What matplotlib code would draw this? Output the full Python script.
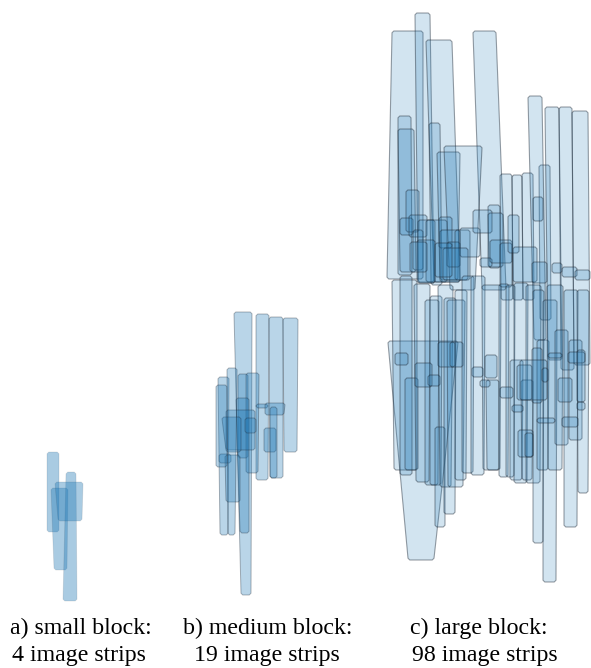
import matplotlib
matplotlib.use("Agg")
import matplotlib.pyplot as plt
from matplotlib.collections import PolyCollection

# strip footprints in page units (x grows right, y grows down):
# (x_top_left, x_top_right, x_bot_left, x_bot_right, y_top, y_bot)
SMALL_STRIPS = [
    (47, 59, 47, 59, 452, 532),
    (51, 68, 54, 67, 488, 570),
    (66, 76, 63, 77, 472, 601),
    (55, 83, 58, 82, 482, 521),
]

MEDIUM_STRIPS = [
    (234, 252, 241, 251, 312, 595),
    (256, 269, 256, 268, 314, 480),
    (269, 283, 270, 283, 317, 478),
    (283, 298, 284, 297, 318, 452),
    (218, 229, 220, 228, 377, 535),
    (238, 248, 238, 248, 374, 458),
    (246, 259, 246, 258, 373, 473),
    (236, 249, 240, 249, 398, 533),
    (226, 255, 226, 255, 410, 450),
    (222, 241, 226, 241, 417, 452),
    (245, 256, 245, 256, 418, 433),
    (256, 268, 256, 268, 404, 408),
    (265, 285, 265, 284, 403, 415),
    (264, 276, 264, 276, 428, 452),
    (219, 231, 219, 231, 454, 463),
    (225, 240, 226, 240, 455, 502),
    (270, 277, 270, 277, 407, 478),
    (216, 227, 216, 227, 385, 467),
    (227, 237, 228, 235, 368, 535),
]

LARGE_STRIPS = [
    # upper row, long strips
    (392, 423, 387, 423, 31, 279),
    (415, 430, 418, 434, 13, 282),
    (426, 452, 434, 460, 40, 282),
    (473, 496, 482, 506, 31, 290),
    (398, 411, 398, 412, 116, 275),
    (398, 414, 400, 416, 129, 272),
    (429, 440, 431, 442, 123, 285),
    (437, 460, 440, 458, 152, 280),
    (444, 482, 450, 475, 146, 290),
    (500, 512, 501, 513, 174, 300),
    (512, 522, 513, 523, 175, 300),
    (522, 533, 523, 534, 173, 300),
    (539, 550, 540, 551, 165, 320),
    (528, 542, 534, 546, 96, 340),
    (545, 559, 548, 562, 107, 360),
    (559, 572, 561, 574, 107, 370),
    (572, 588, 574, 590, 111, 365),
    (533, 543, 533, 543, 197, 221),
    (406, 419, 406, 419, 190, 232),
    (400, 413, 400, 413, 218, 235),
    (488, 500, 489, 500, 205, 268),
    # upper row, short strips
    (409, 427, 409, 427, 215, 237),
    (413, 423, 413, 423, 230, 270),
    (418, 435, 418, 435, 220, 283),
    (426, 447, 426, 447, 220, 282),
    (439, 452, 439, 452, 217, 248),
    (440, 460, 440, 460, 230, 282),
    (447, 460, 447, 460, 242, 267),
    (455, 470, 455, 470, 230, 280),
    (460, 480, 460, 480, 228, 257),
    (473, 492, 473, 492, 210, 233),
    (488, 503, 488, 503, 213, 267),
    (480, 492, 480, 492, 258, 267),
    (490, 512, 490, 512, 240, 263),
    (500, 512, 500, 512, 243, 287),
    (508, 519, 508, 519, 215, 253),
    (513, 537, 513, 537, 247, 282),
    (532, 547, 532, 547, 262, 283),
    (443, 468, 443, 468, 248, 280),
    (417, 435, 417, 435, 240, 283),
    (435, 452, 435, 452, 243, 277),
    (410, 427, 410, 427, 242, 272),
    (552, 562, 552, 562, 263, 273),
    (562, 577, 562, 577, 267, 277),
    (575, 590, 575, 590, 270, 280),
    # lower row, long strips
    (388, 458, 408, 434, 341, 560),
    (392, 417, 394, 417, 280, 470),
    (400, 412, 400, 412, 276, 475),
    (405, 418, 405, 418, 378, 470),
    (414, 430, 416, 429, 284, 482),
    (425, 439, 425, 438, 300, 485),
    (430, 442, 430, 441, 296, 485),
    (435, 445, 435, 445, 427, 527),
    (438, 453, 440, 451, 285, 487),
    (444, 456, 444, 455, 298, 514),
    (447, 465, 448, 463, 300, 487),
    (455, 467, 455, 466, 290, 480),
    (462, 474, 462, 473, 276, 473),
    (471, 485, 471, 484, 276, 475),
    (482, 501, 483, 500, 285, 470),
    (486, 499, 487, 499, 380, 470),
    (499, 509, 499, 508, 284, 477),
    (506, 515, 506, 514, 285, 477),
    (510, 523, 510, 522, 360, 480),
    (514, 528, 514, 527, 283, 483),
    (521, 533, 522, 532, 380, 480),
    (526, 541, 526, 540, 285, 483),
    (533, 544, 533, 543, 290, 543),
    (537, 549, 537, 548, 340, 470),
    (543, 557, 543, 556, 300, 582),
    (547, 563, 548, 562, 285, 470),
    (555, 568, 555, 568, 330, 445),
    (564, 578, 564, 577, 290, 527),
    (569, 582, 569, 582, 340, 440),
    (577, 589, 578, 588, 290, 493),
    # lower row, short strips
    (395, 408, 395, 408, 353, 365),
    (415, 432, 415, 432, 363, 387),
    (428, 440, 428, 440, 375, 386),
    (438, 455, 438, 455, 342, 367),
    (450, 463, 450, 463, 342, 367),
    (472, 483, 472, 483, 367, 377),
    (480, 490, 480, 490, 380, 387),
    (485, 497, 485, 497, 355, 378),
    (500, 513, 500, 513, 387, 398),
    (512, 523, 512, 523, 405, 412),
    (517, 532, 517, 532, 365, 400),
    (532, 542, 532, 542, 348, 403),
    (520, 547, 520, 547, 360, 400),
    (542, 548, 542, 548, 368, 382),
    (548, 562, 548, 562, 353, 358),
    (558, 572, 558, 572, 378, 402),
    (568, 585, 568, 585, 352, 363),
    (577, 585, 577, 585, 350, 402),
    (577, 585, 577, 585, 402, 410),
    (537, 555, 537, 555, 418, 423),
    (562, 578, 562, 578, 417, 427),
    (518, 533, 518, 533, 430, 457),
    (525, 533, 525, 533, 433, 457),
]

LINE1 = ["a) small block:", "b) medium block:", "c) large block:"]
LINE2 = ["4 image strips", "19 image strips", "98 image strips"]
LINE1_X = [10, 183, 410]
LINE2_X = [12, 194, 412]

BLUE = (0.12, 0.47, 0.71)
EDGE = (0.12, 0.17, 0.22)


def strip_poly(xlt, xrt, xlb, xrb, yt, yb, c=1.8):
    # quadrilateral with slightly clipped corners
    return [(xlt + c, yt), (xrt - c, yt), (xrt, yt + c), (xrb, yb - c),
            (xrb - c, yb), (xlb + c, yb), (xlb, yb - c), (xlt, yt + c)]


def draw_block(ax, strips, face_alpha, edge_alpha, lw):
    polys = [strip_poly(*s) for s in strips]
    pc = PolyCollection(polys, facecolors=[BLUE + (face_alpha,)],
                        edgecolors=[EDGE + (edge_alpha,)], linewidths=lw)
    ax.add_collection(pc)


fig = plt.figure(figsize=(5.91, 6.68), dpi=100)
ax = fig.add_axes([0, 0, 1, 1])
ax.set_xlim(0, 591)
ax.set_ylim(668, 0)
ax.axis("off")

draw_block(ax, SMALL_STRIPS, 0.38, 0.12, 0.6)
draw_block(ax, MEDIUM_STRIPS, 0.31, 0.35, 0.7)
draw_block(ax, LARGE_STRIPS, 0.2, 0.45, 0.8)

for x, s in zip(LINE1_X, LINE1):
    ax.text(x, 634, s, family="Liberation Serif", fontsize=17.2, ha="left", va="baseline")
for x, s in zip(LINE2_X, LINE2):
    ax.text(x, 661, s, family="Liberation Serif", fontsize=17.2, ha="left", va="baseline")

fig.savefig("out.png", dpi=100)
